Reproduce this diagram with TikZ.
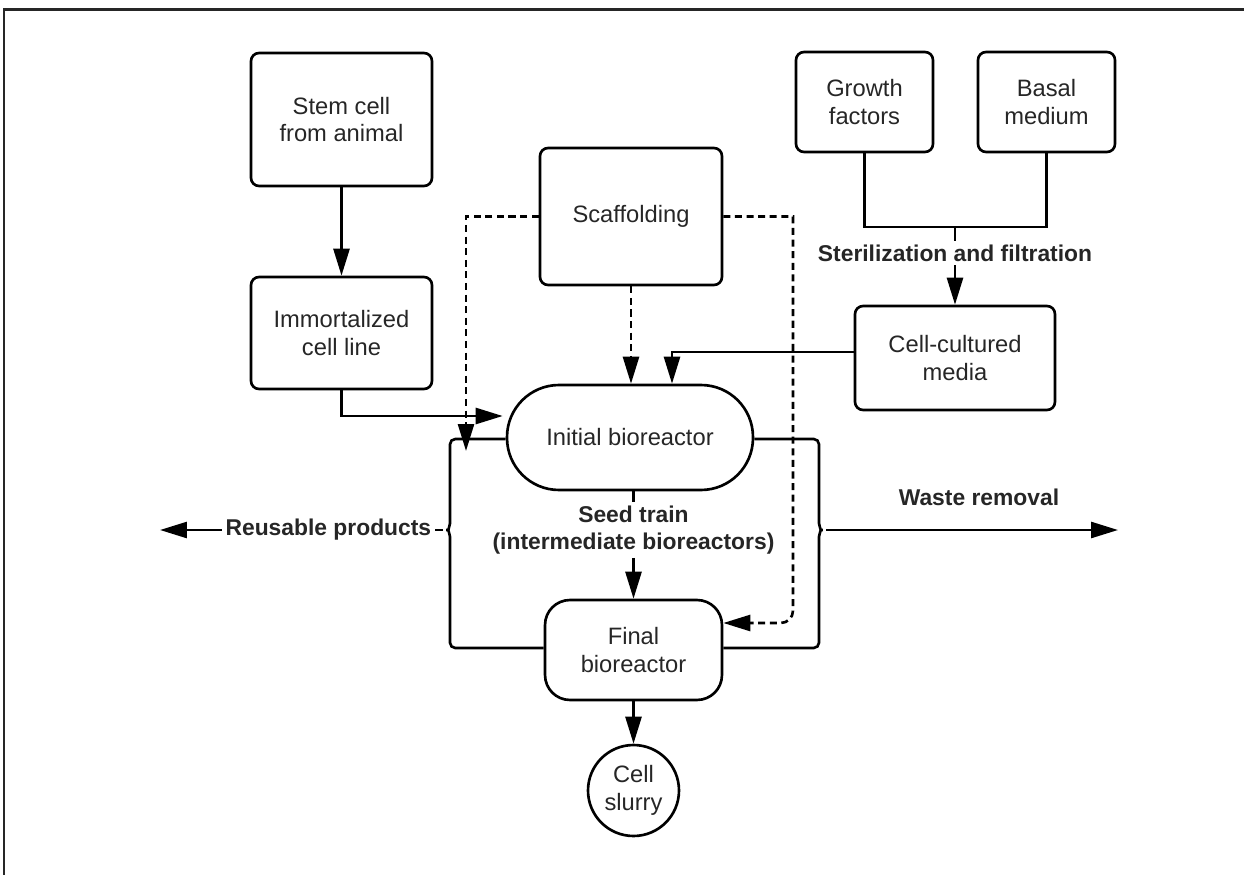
\documentclass[tikz,border=0pt]{standalone}
\usepackage{fontspec}
\setmainfont{Liberation Sans}
\usetikzlibrary{arrows.meta,calc}

\tikzset{
  box/.style = {draw, line width=1.5pt, rounded corners=0.16cm, align=center, inner sep=2pt,
                font=\fontsize{13.5}{15.6}\selectfont, text=black!85},
  pill/.style = {box, rounded corners=1.04cm},
  lbl/.style = {font=\fontsize{13}{15.3}\selectfont\bfseries, align=center, inner sep=2pt, fill=white, text=black!85},
  conn/.style = {line width=1.5pt},
  arr/.style = {conn, -{Triangle[length=0.54cm,width=0.32cm]}},
  dasharr/.style = {arr, dash pattern=on 4pt off 2.6pt}
}

\begin{document}
\begin{tikzpicture}[x=0.02cm, y=-0.02cm]
\useasboundingbox (0,0) rectangle (1244,875);
\draw[line width=1.7pt, black!85] (4,875) |- (1244,9.5);

% boxes
\node[box, minimum width=3.62cm, minimum height=2.66cm] (stem) at (341.5,119.5) {Stem cell\\from animal};
\node[box, minimum width=3.62cm, minimum height=2.24cm] (immortal) at (341.5,333) {Immortalized\\cell line};
\node[box, minimum width=3.64cm, minimum height=2.74cm] (scaffold) at (631,216.5) {Scaffolding};
\node[box, minimum width=2.74cm, minimum height=2.0cm] (growth) at (864.5,102) {Growth\\factors};
\node[box, minimum width=2.74cm, minimum height=2.0cm] (basal) at (1046.5,102) {Basal\\medium};
\node[box, minimum width=4.0cm, minimum height=2.08cm] (media) at (955,358) {Cell-cultured\\media};
\node[pill, minimum width=4.92cm, minimum height=2.1cm] (initial) at (630,437.5) {Initial bioreactor};
\node[box, rounded corners=0.5cm, minimum width=3.54cm, minimum height=2.0cm] (final) at (633.5,650) {Final\\bioreactor};
\node[box, circle, minimum size=1.82cm] (slurry) at (633.5,790.5) {Cell\\slurry};

% labels
\node[lbl] (steril) at (955,253) {Sterilization and filtration};
\node[lbl] (seed) at (633.5,530) {Seed train\\(intermediate bioreactors)};
\node[lbl, fill=none] (waste) at (979,497) {Waste removal};

\coordinate (mix) at (955,227);
\coordinate (braceL) at (450,530);
\coordinate (braceR) at (819,530);
\coordinate (reuseEnd) at (160,530);
\coordinate (wasteEnd) at (1118,530);
\coordinate (scafL) at (466,451);
\coordinate (scafR) at (793,623);

% solid flow
\draw[arr] (stem) -- (immortal);
\draw[arr] (immortal.south) |- ($(initial.west)+(-3,-21.5)$);
\draw[conn] (growth.south) |- (mix) -| (basal.south);
\draw[conn] (mix) -- (steril);
\draw[arr] (steril) -- (media);
\draw[arr] ($(media.west)+(0,-6)$) -| ($(initial.north)+(42,0)$);
\draw[conn] (seed) -- (seed |- initial.south);
\draw[arr] (seed) -- (seed |- final.north);
\draw[arr] (final) -- (slurry);

% scaffolding (dashed)
\draw[dasharr] (scaffold.west) -| (scafL);
\draw[dasharr] (scaffold.south) -- (scaffold.south |- initial.north);
\draw[dasharr] (scaffold.east) -| ($(scafR)+(0,-20)$) [rounded corners=7pt] -- (scafR) -- ($(final.east)+(0,-27)$);

% loops with braces
\draw[conn, rounded corners=3pt] ($(initial.west)+(0,1.5)$) -| ($(braceL)+(0,-12)$)
  to[out=-90, in=0] ($(braceL)+(-7,0)$) to[out=0, in=90] ($(braceL)+(0,12)$)
  |- ($(final.west)+(0,-2)$);
\draw[conn, rounded corners=3pt] ($(initial.east)+(0,1.5)$) -| ($(braceR)+(0,-12)$)
  to[out=-90, in=180] ($(braceR)+(7,0)$) to[out=180, in=90] ($(braceR)+(0,12)$)
  |- ($(final.east)+(0,-2)$);
\draw[arr] ($(braceL)+(-7,0)$) -- node[lbl, pos=0.405] {Reusable products} (reuseEnd);
\draw[arr] ($(braceR)+(7,0)$) -- (wasteEnd);
\end{tikzpicture}
\end{document}
